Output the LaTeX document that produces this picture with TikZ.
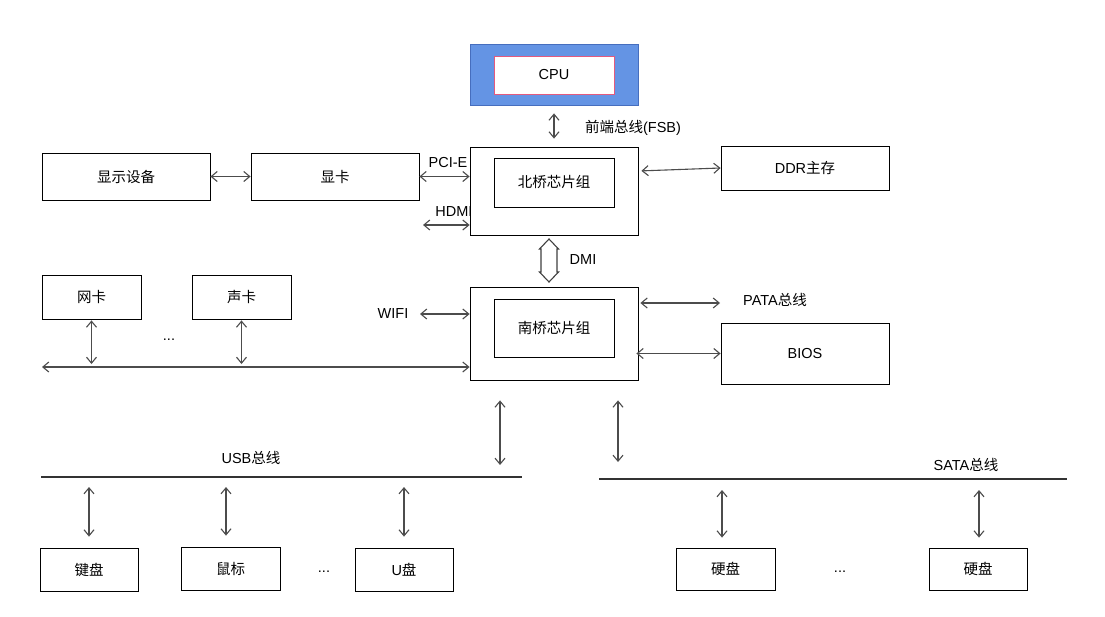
\documentclass[tikz,border=0pt]{standalone}
\usepackage{fontspec}
\setmainfont{Liberation Sans}
\newfontfamily\cjk{Noto Sans CJK SC}
\usetikzlibrary{arrows.meta}
\definecolor{cpublue}{RGB}{100,148,228}
\definecolor{cpuedge}{RGB}{70,110,190}
\definecolor{cpupink}{RGB}{228,90,125}

\begin{document}
\begin{tikzpicture}[x=1pt,y=-1pt,
  font=\fontsize{14.5}{17}\selectfont,
  box/.style={draw,line width=0.8pt,fill=white,inner sep=0pt},
  biarrow/.style={{Straight Barb[length=6pt,width=10pt]}-{Straight Barb[length=6pt,width=10pt]},line width=1.1pt,black!70},
  bus/.style={line width=1.1pt,black!80}]
\useasboundingbox[fill=white] (0,0) rectangle (1105,616);

% labels that the chip boxes cover in part
\node (pcie) at (448,163) {PCI-E};
\node (hdmi) at (454,212) {HDMI};

% CPU
\node[box,fill=cpublue,draw=cpuedge,minimum width=168,minimum height=61] (cpuout) at (554,74.5) {};
\node[box,draw=cpupink,minimum width=120,minimum height=38] (cpu) at (554,75) {CPU};

% north bridge
\node[box,minimum width=168,minimum height=88] (nbout) at (554,191) {};
\node[box,minimum width=120,minimum height=49] (nb) at (554,182.5) {\cjk 北桥芯片组};
\node[box,minimum width=168,minimum height=44] (ddr) at (805,168) {DDR\cjk 主存};
\node[box,minimum width=168,minimum height=47] (disp) at (126,176.5) {\cjk 显示设备};
\node[box,minimum width=168,minimum height=47] (gpu) at (335,176.5) {\cjk 显卡};

% south bridge
\node[box,minimum width=168,minimum height=93] (sbout) at (554,333.5) {};
\node[box,minimum width=120,minimum height=58] (sb) at (554,328) {\cjk 南桥芯片组};
\node[box,minimum width=168,minimum height=61] (bios) at (805,353.5) {BIOS};
\node[box,minimum width=99,minimum height=44] (nic) at (91.5,297) {\cjk 网卡};
\node[box,minimum width=99,minimum height=44] (snd) at (241.5,297) {\cjk 声卡};

% devices
\node[box,minimum width=98,minimum height=43] (kbd) at (89,569.5) {\cjk 键盘};
\node[box,minimum width=99,minimum height=43] (mouse) at (230.5,568.5) {\cjk 鼠标};
\node[box,minimum width=98,minimum height=43] (udisk) at (404,569.5) {U\cjk 盘};
\node[box,minimum width=99,minimum height=42] (hdA) at (725.5,569) {\cjk 硬盘};
\node[box,minimum width=98,minimum height=42] (hdB) at (978,569) {\cjk 硬盘};

\node (fsb) at (633,128) {\cjk 前端总线\rmfamily (FSB)};
\node (dmi) at (583,260) {DMI};
\node (wifi) at (393,314) {WIFI};
\node (pata) at (775,300) {PATA\cjk 总线};
\node (usb) at (251,458) {USB\cjk 总线};
\node (sata) at (966,465) {SATA\cjk 总线};
\node (dotsA) at (169,340) {...};
\node (dotsB) at (324,572) {...};
\node (dotsC) at (840,572) {...};

\coordinate (hdmiend) at (423,225);
\coordinate (wifiend) at (420,314);
\coordinate (pataend) at (720,303);
\coordinate (busl) at (42,367);
\coordinate (usbl) at (41,477);
\coordinate (usbr) at (522,477);
\coordinate (satal) at (599,479);
\coordinate (satar) at (1067,479);

% buses
\draw[bus] (usbl) -- (usbr);
\draw[bus] (satal) -- (satar);

% links
\draw[biarrow,shorten <=8pt,shorten >=8pt] (cpuout) -- (nbout);
\draw[biarrow] (disp) -- (gpu);
\draw[biarrow] (gpu.east) -- (gpu.east -| nbout.west);
\draw[biarrow] (hdmiend) -- (hdmiend -| nbout.west);
\draw[biarrow,shorten <=3pt] (nbout.east |- 0,171) -- (ddr.west);
\draw[biarrow] (wifiend) -- (wifiend -| sbout.west);
\draw[biarrow,shorten <=2pt] (pataend -| sbout.east) -- (pataend);
\draw[biarrow,shorten <=-2pt] (bios.west -| sbout.east) -- (bios.west);
\draw[biarrow] (busl) -- (busl -| sbout.west);
\draw[biarrow,shorten <=1pt,shorten >=3pt] (nic.south) -- (nic.south |- busl);
\draw[biarrow,shorten <=1pt,shorten >=3pt] (snd.south) -- (snd.south |- busl);

% DMI
\draw[line width=1.1pt,black!75] (549,239) -- (558.5,249) -- (557,249) -- (557,272) -- (558.5,272)
  -- (549,282) -- (539.5,272) -- (541,272) -- (541,249) -- (539.5,249) -- cycle;

% to the buses
\draw[biarrow,shorten <=20pt,shorten >=12pt] ([xshift=-54pt]sbout.south) -- ([xshift=-54pt]sbout.south |- usbl);
\draw[biarrow,shorten <=20pt,shorten >=17pt] ([xshift=64pt]sbout.south) -- ([xshift=64pt]sbout.south |- satal);
\draw[biarrow,shorten <=11pt,shorten >=10pt] (kbd.north) -- (kbd.north |- usbl);
\draw[biarrow,shorten <=11pt,shorten >=10pt] ([xshift=-4.5pt]mouse.north) -- ([xshift=-4.5pt]mouse.north |- usbl);
\draw[biarrow,shorten <=11pt,shorten >=10pt] (udisk.north) -- (udisk.north |- usbl);
\draw[biarrow,shorten <=10pt,shorten >=11pt] ([xshift=-3.5pt]hdA.north) -- ([xshift=-3.5pt]hdA.north |- satal);
\draw[biarrow,shorten <=10pt,shorten >=11pt] ([xshift=1pt]hdB.north) -- ([xshift=1pt]hdB.north |- satal);
\end{tikzpicture}
\end{document}
